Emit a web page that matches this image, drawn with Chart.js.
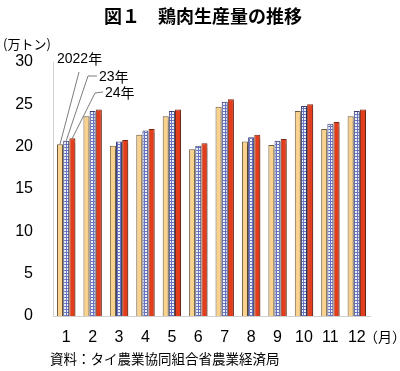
<!DOCTYPE html>
<html><head><meta charset="utf-8">
<script src="https://cdn.jsdelivr.net/npm/chart.js@4"></script>
<style>html,body{margin:0;padding:0;background:#fff}#wrap{width:400px;height:371px}</style>
</head><body><div id="wrap"><canvas id="c" width="400" height="371"></canvas></div>
<script>
const months = ['1','2','3','4','5','6','7','8','9','10','11','12'];
const seriesNames = ['2022年','23年','24年'];
const y2022 = [20.3,23.6,20.1,21.4,23.6,19.7,24.7,20.6,20.2,24.2,22.1,23.6];
const y2023 = [20.7,24.2,20.6,21.9,24.2,20.1,25.3,21.1,20.7,24.8,22.7,24.2];
const y2024 = [21.0,24.4,20.8,22.1,24.4,20.4,25.6,21.4,20.9,25.0,22.9,24.4];
const yTicks = [0,5,10,15,20,25,30];

const titleText = '図１　鶏肉生産量の推移';
const unitText = '(万トン)';
const monthUnit = '（月）';
const sourceText = '資料：タイ農業協同組合省農業経済局';

const NUM = '"Liberation Sans", Arial, sans-serif';
const JP = '"Noto Sans CJK JP", sans-serif';

function makePattern(){
  const p = document.createElement('canvas');
  p.width = 3; p.height = 3;
  const g = p.getContext('2d');
  g.fillStyle = '#eef0fa'; g.fillRect(0,0,3,3);
  g.fillStyle = '#6673c4';
  g.fillRect(0,0,3,1); g.fillRect(0,0,1,3);
  return g.createPattern(p,'repeat');
}
const ctx0 = document.getElementById('c').getContext('2d');
const bluePat = makePattern();

const extras = {
  id:'extras',
  beforeDatasetsDraw(chart){
    const c = chart.ctx; c.save();
    c.shadowColor='rgba(0,0,0,0.25)'; c.shadowOffsetX=1.5; c.shadowOffsetY=1; c.shadowBlur=1;
  },
  afterDatasetsDraw(chart){
    const c = chart.ctx; c.restore();
    c.save();
    c.fillStyle='#000';
    c.font='bold 18px '+JP; c.textAlign='center'; c.textBaseline='middle';
    c.fillText(titleText, 203, 16);
    c.font='13px '+JP; c.textAlign='left';
    c.fillText(unitText, 3, 44);
    c.font='14px '+JP; c.textAlign='left';
    c.fillText(monthUnit, 364, 337);
    c.font='13.5px '+JP; c.textAlign='left';
    c.fillText(sourceText, 50, 359);
    const labelPos = [[57,59,79,72],[99,77,88,76],[105,93,95,93]];
    c.strokeStyle='#444'; c.lineWidth=0.7;
    for(let i=0;i<3;i++){
      const el = chart.getDatasetMeta(i).data[0];
      const [lx,ly,sx,sy] = labelPos[i];
      c.beginPath();
      if(i>0){ c.moveTo(lx-2,ly-1); c.lineTo(sx,sy); }
      else { c.moveTo(sx,sy); }
      c.lineTo(el.x, el.y);
      c.stroke();
      c.font='14px '+NUM; c.textAlign='left'; c.textBaseline='middle';
      const num = seriesNames[i].replace('年','');
      c.fillText(num, lx, ly);
      const w = c.measureText(num).width;
      c.font='14px '+JP;
      c.fillText('年', lx+w, ly);
    }
    c.restore();
  }
};

new Chart(ctx0, {
  type:'bar',
  data:{
    labels: months,
    datasets:[
      {label:seriesNames[0], data:y2022, backgroundColor:'#f9d28e', borderColor:'#6e5b3c', borderWidth:1},
      {label:seriesNames[1], data:y2023, backgroundColor:bluePat, borderColor:'#3c4170', borderWidth:1},
      {label:seriesNames[2], data:y2024, backgroundColor:'#e43d1c', borderColor:'#7a2814', borderWidth:1}
    ]
  },
  options:{
    responsive:false, animation:false,
    devicePixelRatio:1,
    layout:{padding:{left:0,right:30,top:62,bottom:0}},
    datasets:{bar:{categoryPercentage:0.7, barPercentage:0.98}},
    plugins:{legend:{display:false}, title:{display:false}, tooltip:{enabled:false}},
    scales:{
      x:{
        grid:{display:false, drawTicks:false},
        border:{display:true, color:'#d0d0d0', width:1},
        ticks:{color:'#000', font:{family:NUM, size:16}, padding:12, maxRotation:0},
        afterFit(s){ s.height = 55; }
      },
      y:{
        min:0, max:30,
        afterBuildTicks(s){ s.ticks = yTicks.map(v=>({value:v})); },
        grid:{display:false, drawTicks:false},
        border:{display:true, color:'#d0d0d0', width:1},
        ticks:{color:'#000', font:{family:NUM, size:16}, padding:20},
        afterFit(s){ s.width = 53; }
      }
    }
  },
  plugins:[extras]
});
</script>
</body></html>
